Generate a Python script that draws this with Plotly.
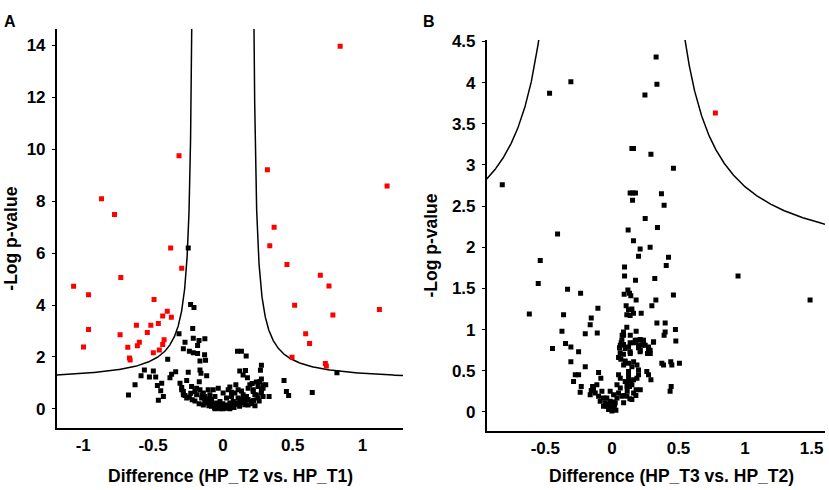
import numpy as np
import plotly.graph_objects as go

# ---------------- Panel A data (HP_T2 vs HP_T1) ----------------
a_sig_x = [0.84, -0.314, 0.319, 1.176, -0.869, -0.776, 0.367, -0.374, 0.336, -0.295,
           -0.731, -1.069, -0.962, 0.459, 0.698, 0.76, -0.493, 0.514, -0.398, -0.431,
           -0.369, -0.462, -0.516, -0.619, -0.962, 0.788, 1.121, -0.541, -0.736, 0.593,
           -0.421, -0.598, 0.621, -0.431, -0.612, -0.998, -0.681, -0.455, -0.498, -0.669,
           -0.664, 0.495, 0.734, 0.741]
a_sig_y = [13.96, 9.75, 9.21, 8.58, 8.09, 7.49, 6.99, 6.20, 6.28, 5.42,
           5.06, 4.72, 4.40, 5.56, 5.15, 4.73, 4.21, 3.99, 3.76, 3.58,
           3.53, 3.29, 3.22, 3.22, 3.06, 3.62, 3.83, 2.94, 2.86, 2.89,
           2.66, 2.57, 2.52, 2.48, 2.43, 2.38, 2.37, 2.27, 2.16, 1.96,
           1.88, 1.99, 1.75, 1.65]

a_ns_x = [-0.248, -0.231, -0.207, -0.216, -0.314, -0.212, -0.271, -0.171, -0.129, -0.181,
          -0.283, -0.240, -0.212, -0.181, -0.131, -0.395, -0.164, -0.124, 0.105, 0.133,
          0.167, -0.338, -0.367, -0.379, -0.562, -0.498, -0.586, -0.526, -0.481, -0.248,
          -0.164, -0.157, -0.116, 0.121, 0.162, 0.145, 0.276, 0.269, 0.176, 0.276,
          0.438, 0.455, 0.471, 0.640, 0.331, 0.817, 0.240, 0.264, 0.288, 0.210,
          0.093, 0.050, 0.252, 0.276, 0.307, -0.438, -0.629, -0.469, -0.307, -0.295,
          -0.283, -0.271, -0.259, -0.426, -0.462, -0.676, -0.445, -0.259, -0.169, -0.224,
          -0.295, -0.283, -0.188, -0.164, -0.140, -0.188, -0.200, -0.152, -0.129, -0.105,
          -0.093, -0.081, -0.069, -0.057, -0.045, -0.021, -0.010, 0.014, 0.038, 0.050,
          0.062, 0.074, 0.086, 0.109, 0.109, 0.133, 0.145, 0.169, 0.181, 0.193,
          0.217, 0.229, 0.276, 0.288, 0.038, -0.033, 0.002, 0.026, 0.050, -0.033,
          -0.081, -0.117, -0.057, -0.021, 0.002, 0.133, 0.062, 0.152, 0.181, 0.217,
          0.240, 0.252, 0.288, 0.205, 0.157, 0.086, -0.240, -0.220, -0.200, -0.170,
          -0.140, -0.100, -0.070, -0.040, 0.000, 0.020, 0.060, 0.100, 0.120, 0.140,
          0.180, 0.200, 0.220, 0.260, 0.030, -0.020, 0.080, -0.060, -0.130, -0.110,
          0.010, -0.005, 0.045, 0.070, -0.090, 0.120, 0.160, -0.150, -0.230, 0.230]
a_ns_y = [6.20, 4.02, 3.90, 3.10, 2.89, 2.72, 2.57, 2.63, 2.70, 2.44,
          2.32, 2.22, 2.16, 2.13, 2.09, 1.91, 1.84, 1.87, 2.22, 2.22,
          2.04, 1.43, 1.33, 1.20, 1.50, 1.46, 1.28, 1.23, 1.23, 1.41,
          1.50, 1.37, 1.28, 1.46, 1.48, 1.31, 1.68, 1.49, 1.20, 1.15,
          1.09, 0.67, 0.52, 0.63, 0.48, 1.39, 1.04, 1.06, 0.92, 0.98,
          0.93, 0.84, 0.86, 0.74, 0.93, 0.99, 0.93, 0.90, 0.99, 0.82,
          0.67, 0.52, 0.42, 0.48, 0.33, 0.54, 0.70, 1.09, 1.05, 0.86,
          0.74, 0.55, 0.80, 0.74, 0.61, 0.55, 0.67, 0.42, 0.48, 0.74,
          0.55, 0.36, 0.74, 0.48, 0.23, 0.29, 0.10, 0.04, 0.10, 0.23,
          0.48, 0.29, 0.61, 0.74, 0.42, 0.36, 0.55, 0.48, 0.36, 0.93,
          0.74, 0.55, 0.61, 0.80, 0.74, 0.80, 0.61, 0.42, 0.01, 0.04,
          0.10, 0.23, 0.01, 0.01, 0.01, 0.69, 0.64, 0.42, 0.80, 0.67,
          0.54, 0.42, 0.48, 0.29, 0.16, 0.23, 0.45, 0.35, 0.30, 0.20,
          0.15, 0.12, 0.18, 0.06, 0.20, 0.15, 0.12, 0.18, 0.10, 0.25,
          0.15, 0.20, 0.32, 0.30, 0.03, 0.02, 0.05, 0.05, 0.30, 0.38,
          0.08, 0.14, 0.07, 0.12, 0.22, 0.28, 0.30, 0.55, 0.60, 0.12]

a_xticks = [-1, -0.5, 0, 0.5, 1]
a_xlabels = ["-1", "-0.5", "0", "0.5", "1"]
a_yticks = [0, 2, 4, 6, 8, 10, 12, 14]
a_ylabels = ["0", "2", "4", "6", "8", "10", "12", "14"]

# ---------------- Panel B data (HP_T3 vs HP_T2) ----------------
b_sig_x = [0.777]
b_sig_y = [3.63]

b_ns_x = [0.332, 0.338, -0.308, -0.468, 0.248, 0.150, 0.162, 0.293, 0.462, -0.823,
          0.137, 0.157, 0.177, 0.372, 0.155, 0.392, 0.250, 0.122, 0.342, -0.408,
          0.162, 0.287, 0.212, -0.538, 0.200, 0.425, 0.408, 0.095, 0.095, 0.947,
          0.177, 0.322, -0.553, -0.333, -0.235, 0.120, 0.132, 0.092, 0.142, 0.182,
          0.330, 0.300, 0.462, 1.488, -0.620, -0.363, -0.105, -0.155, -0.163, 0.107,
          0.125, 0.150, 0.112, 0.137, 0.162, 0.220, 0.338, 0.400, 0.477, 0.112,
          -0.375, -0.200, -0.110, 0.087, 0.077, 0.182, 0.400, 0.392, 0.480, 0.312,
          -0.348, -0.446, -0.308, -0.250, 0.070, 0.087, 0.057, 0.100, 0.062, 0.087,
          0.050, 0.067, 0.100, 0.137, 0.162, 0.187, 0.212, 0.237, 0.225, 0.250,
          0.275, 0.287, 0.267, 0.212, 0.137, 0.200, -0.308, -0.200, 0.442, 0.450,
          0.507, -0.100, -0.083, -0.275, -0.250, -0.288, -0.230, -0.238, -0.145, -0.155,
          -0.163, -0.138, 0.262, 0.275, 0.293, 0.445, 0.437, 0.120, 0.132, 0.182,
          0.115, 0.090, 0.135, 0.180, -0.113, -0.125, -0.100, -0.075, -0.063, -0.088,
          -0.050, -0.038, -0.025, 0.000, 0.013, -0.013, 0.025, 0.038, 0.050, 0.063,
          0.075, 0.088, 0.038, 0.063, 0.050, 0.100, 0.125, 0.138, 0.150, 0.113,
          0.163, 0.188, 0.200, 0.213, 0.163, 0.150, 0.113, 0.088, 0.125, 0.150,
          0.163, 0.188, 0.200, 0.125, 0.063, 0.075, 0.088, 0.138, 0.125, 0.138,
          0.175, 0.200, 0.225, 0.238, 0.275, 0.288, 0.313, 0.213, 0.375, 0.388,
          -0.063, -0.038, 0.013, -0.013, 0.005, -0.005, 0.020, 0.030, -0.020, 0.010]
b_ns_y = [4.31, 3.98, 4.01, 3.87, 3.85, 3.20, 3.20, 3.13, 2.96, 2.76,
          2.66, 2.66, 2.66, 2.65, 2.57, 2.51, 2.35, 2.21, 2.24, 2.16,
          2.08, 2.00, 1.98, 1.84, 1.89, 1.88, 1.78, 1.76, 1.65, 1.65,
          1.60, 1.62, 1.56, 1.49, 1.44, 1.48, 1.44, 1.43, 1.41, 1.36,
          1.36, 1.29, 1.42, 1.36, 1.19, 1.18, 1.26, 1.14, 1.06, 1.29,
          1.24, 1.25, 1.18, 1.17, 1.20, 1.20, 1.08, 1.08, 1.00, 1.03,
          0.98, 0.95, 0.96, 0.97, 0.93, 0.98, 0.97, 0.93, 0.86, 0.85,
          0.83, 0.77, 0.79, 0.73, 0.84, 0.82, 0.78, 0.77, 0.72, 0.70,
          0.66, 0.64, 0.62, 0.84, 0.84, 0.87, 0.88, 0.87, 0.81, 0.81,
          0.77, 0.75, 0.71, 0.73, 0.73, 0.78, 0.61, 0.55, 0.61, 0.57,
          0.59, 0.48, 0.41, 0.45, 0.45, 0.37, 0.31, 0.24, 0.31, 0.26,
          0.21, 0.28, 0.49, 0.45, 0.39, 0.31, 0.25, 0.37, 0.31, 0.27,
          0.25, 0.20, 0.16, 0.20, 0.33, 0.23, 0.19, 0.25, 0.17, 0.13,
          0.11, 0.07, 0.03, 0.01, 0.05, 0.13, 0.11, 0.17, 0.23, 0.29,
          0.19, 0.11, 0.33, 0.41, 0.45, 0.37, 0.43, 0.37, 0.33, 0.31,
          0.39, 0.41, 0.45, 0.27, 0.23, 0.15, 0.19, 0.57, 0.59, 0.55,
          0.61, 0.57, 0.51, 0.49, 0.81, 0.87, 0.93, 0.93, 0.79, 0.71,
          0.87, 0.81, 0.87, 0.83, 0.79, 0.71, 0.85, 0.75, 0.59, 0.57,
          0.07, 0.17, 0.21, 0.25, 0.03, 0.06, 0.08, 0.02, 0.09, 0.12]

b_xticks = [-0.5, 0, 0.5, 1, 1.5]
b_xlabels = ["-0.5", "0", "0.5", "1", "1.5"]
b_yticks = [0, 0.5, 1, 1.5, 2, 2.5, 3, 3.5, 4, 4.5]
b_ylabels = ["0", "0.5", "1", "1.5", "2", "2.5", "3", "3.5", "4", "4.5"]

# Threshold curve parameters: y = c + s / (|x| - x0)
curve_a = dict(c=1.06, s=0.245, x0=0.205)
curve_b = dict(c=1.75, s=0.69, x0=0.30)

xr_a = [-1.19, 1.29]
yr_a = [-0.72, 14.64]
xr_b = [-0.94, 1.6]
yr_b = [-0.23, 4.52]

W, H = 829, 490
FONT = "Liberation Sans, Arial, sans-serif"


def curve_pts(p, xr, ymax):
    xs_in = p["x0"] + p["s"] / (ymax - p["c"])
    t = np.linspace(0, 1, 400)
    xl = -(xs_in + (-xr[0] - xs_in) * t ** 2)
    xrr = xs_in + (xr[1] - xs_in) * t ** 2
    yl = p["c"] + p["s"] / (np.abs(xl) - p["x0"])
    yrr = p["c"] + p["s"] / (np.abs(xrr) - p["x0"])
    x = list(xl[::-1]) + [None] + list(xrr)
    y = list(yl[::-1]) + [None] + list(yrr)
    return x, y


def bold(labels):
    return ["<b>%s</b>" % s for s in labels]


fig = go.Figure()

cxa, cya = curve_pts(curve_a, xr_a, yr_a[1])
cxb, cyb = curve_pts(curve_b, xr_b, yr_b[1])

fig.add_trace(go.Scatter(x=cxa, y=cya, mode="lines", line=dict(color="black", width=1.5),
                         xaxis="x", yaxis="y", hoverinfo="skip", connectgaps=False))
fig.add_trace(go.Scatter(x=cxb, y=cyb, mode="lines", line=dict(color="black", width=1.5),
                         xaxis="x2", yaxis="y2", hoverinfo="skip", connectgaps=False))

mk_black = dict(symbol="square", size=5, color="black", line=dict(width=0))
mk_red = dict(symbol="square", size=5, color="#ff0000", line=dict(width=0))

fig.add_trace(go.Scatter(x=a_ns_x, y=a_ns_y, mode="markers", marker=mk_black, xaxis="x", yaxis="y"))
fig.add_trace(go.Scatter(x=a_sig_x, y=a_sig_y, mode="markers", marker=mk_red, xaxis="x", yaxis="y"))
fig.add_trace(go.Scatter(x=b_ns_x, y=b_ns_y, mode="markers", marker=mk_black, xaxis="x2", yaxis="y2"))
fig.add_trace(go.Scatter(x=b_sig_x, y=b_sig_y, mode="markers", marker=mk_red, xaxis="x2", yaxis="y2"))

tickfont = dict(family=FONT, size=17, color="black")
axis_common = dict(showline=True, linecolor="black", linewidth=1.5, showgrid=False,
                   zeroline=False, tickfont=tickfont, mirror=False)
yaxis_ticks = dict(ticks="outside", ticklen=3, tickwidth=1.2, tickcolor="black", ticklabelstandoff=3)
xaxis_ticks = dict(ticks="", ticklabelstandoff=1)

fig.update_layout(
    width=W, height=H, margin=dict(l=0, r=0, t=0, b=0),
    paper_bgcolor="white", plot_bgcolor="white", showlegend=False,
    xaxis=dict(domain=[56.7 / W, 403 / W], range=xr_a, anchor="y",
               tickvals=a_xticks, ticktext=bold(a_xlabels), **xaxis_ticks, **axis_common),
    yaxis=dict(domain=[1 - 426.7 / H, 1 - 22 / H], range=yr_a, anchor="x",
               tickvals=a_yticks, ticktext=bold(a_ylabels), **yaxis_ticks, **axis_common),
    xaxis2=dict(domain=[486.7 / W, 825 / W], range=xr_b, anchor="y2",
                tickvals=b_xticks, ticktext=bold(b_xlabels), **xaxis_ticks, **axis_common),
    yaxis2=dict(domain=[1 - 430 / H, 1 - 33.3 / H], range=yr_b, anchor="x2",
                tickvals=b_yticks, ticktext=bold(b_ylabels), **yaxis_ticks, **axis_common),
)

title_font = dict(family=FONT, size=17.5, color="black")
lab_font = dict(family=FONT, size=16, color="black")
ann = [
    dict(text="<b>A</b>", x=9.5 / W, y=1 - 14.5 / H, font=lab_font),
    dict(text="<b>B</b>", x=428.5 / W, y=1 - 14.5 / H, font=lab_font),
    dict(text="<b>Difference (HP_T2 vs. HP_T1)</b>", x=230.5 / W, y=1 - 475.5 / H, font=title_font),
    dict(text="<b>Difference (HP_T3 vs. HP_T2)</b>", x=671.7 / W, y=1 - 476 / H, font=title_font),
    dict(text="<b>-Log p-value</b>", x=11 / W, y=1 - 235 / H, textangle=-90, font=title_font),
    dict(text="<b>-Log p-value</b>", x=431 / W, y=1 - 242 / H, textangle=-90, font=title_font),
]
for a in ann:
    a.update(xref="paper", yref="paper", showarrow=False, xanchor="center", yanchor="middle")
fig.update_layout(annotations=ann)

fig.write_html("out.html", config={"displayModeBar": False},
               post_script="document.body.style.margin='0px';document.body.style.padding='0px';")
